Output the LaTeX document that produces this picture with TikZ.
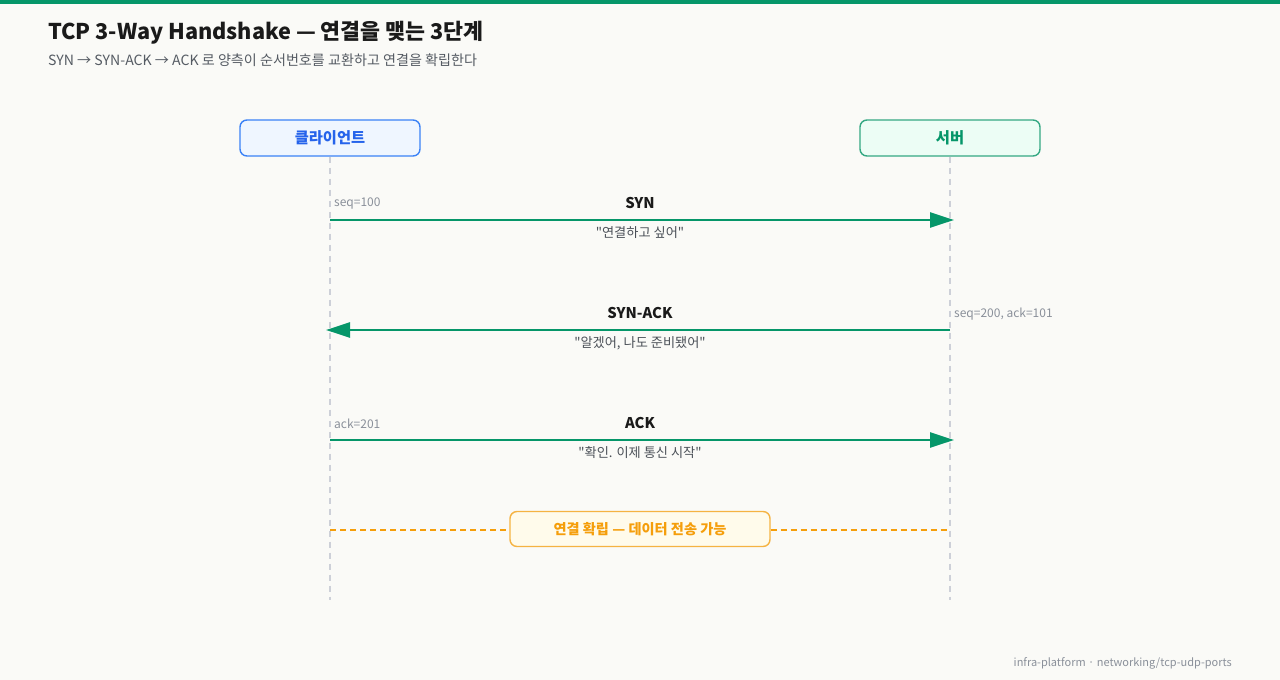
\documentclass[tikz,border=0pt]{standalone}
\usepackage{fontspec}
\setmainfont{Noto Sans CJK KR}
\newfontfamily\plainfont{Noto Sans CJK KR}
\usetikzlibrary{arrows.meta}
\definecolor{bg}{HTML}{FAFAF7}
\definecolor{topbar}{HTML}{059669}
\definecolor{titlec}{HTML}{1A1A1A}
\definecolor{subc}{HTML}{555B63}
\definecolor{cfill}{HTML}{EFF6FF}
\definecolor{cdraw}{HTML}{3B82F6}
\definecolor{ctext}{HTML}{2563EB}
\definecolor{sfill}{HTML}{ECFDF5}
\definecolor{sdraw}{HTML}{34A883}
\definecolor{stext}{HTML}{059669}
\definecolor{life}{HTML}{CDD0D8}
\definecolor{msg}{HTML}{059669}
\definecolor{note}{HTML}{8A909A}
\definecolor{quote}{HTML}{4B5058}
\definecolor{efill}{HTML}{FFFBEB}
\definecolor{edraw}{HTML}{F5B342}
\definecolor{etext}{HTML}{F59E0B}
\definecolor{eline}{HTML}{F59E0B}
\tikzset{
  actor/.style={draw, rounded corners=7pt, line width=1.4pt, minimum width=180pt, minimum height=36pt, inner sep=0pt, font=\fontsize{15.3}{17}\selectfont\bfseries},
  lifeline/.style={draw=life, line width=1.5pt, dash pattern=on 6pt off 5pt},
  msgline/.style={draw=msg, line width=2.5pt, -{Triangle[length=24pt,width=15pt]}},
  msglabel/.style={font=\fontsize{14.8}{17}\selectfont\bfseries, text=titlec, inner sep=0pt},
  seqlabel/.style={font=\fontsize{12}{14}\selectfont, text=note, inner sep=0pt, anchor=west},
  quotelabel/.style={font=\plainfont\fontsize{13.2}{15}\selectfont, text=quote, inner sep=0pt},
}
\begin{document}
\begin{tikzpicture}[x=1pt,y=-1pt]
\useasboundingbox (0,0) rectangle (1280,680);
\fill[bg] (0,0) rectangle (1280,680);
\fill[topbar] (0,0) rectangle (1280,4);
\node[anchor=base west, inner sep=0pt, text=titlec, font=\fontsize{21.7}{24}\selectfont\bfseries] (title) at (48,39) {TCP 3-Way Handshake — 연결을 맺는 3단계};
\node[anchor=base west, inner sep=0pt, text=subc, font=\fontsize{14.1}{16}\selectfont] (subtitle) at (48,65) {SYN → SYN-ACK → ACK 로 양측이 순서번호를 교환하고 연결을 확립한다};

\node[actor, fill=cfill, draw=cdraw, text=ctext] (client) at (330,138) {클라이언트};
\node[actor, fill=sfill, draw=sdraw, text=stext] (server) at (950,138) {서버};

\coordinate (cend) at (330,600);
\coordinate (send) at (950,600);
\draw[lifeline] (client.south) -- (cend);
\draw[lifeline] (server.south) -- (send);

% SYN
\coordinate (c1) at (330,220);
\coordinate (s1) at (954,220);
\draw[msgline] (c1) -- (s1);
\node[msglabel] (syn) at (640,203) {SYN};
\node[seqlabel] (seq1) at (334,204) {seq=100};
\node[quotelabel] (q1) at (640,233) {"연결하고 싶어"};

% SYN-ACK
\coordinate (s2) at (950,330);
\coordinate (c2) at (326,330);
\draw[msgline] (s2) -- (c2);
\node[msglabel] (synack) at (640,313) {SYN-ACK};
\node[seqlabel] (seq2) at (954,314) {seq=200, ack=101};
\node[quotelabel] (q2) at (640,343) {"알겠어, 나도 준비됐어"};

% ACK
\coordinate (c3) at (330,440);
\coordinate (s3) at (954,440);
\draw[msgline] (c3) -- (s3);
\node[msglabel] (ack) at (640,423) {ACK};
\node[seqlabel] (seq3) at (334,424) {ack=201};
\node[quotelabel] (q3) at (640,453) {"확인. 이제 통신 시작"};

% established
\node[draw=edraw, fill=efill, rounded corners=7pt, line width=1.4pt, minimum width=260pt, minimum height=35pt, inner sep=0pt, text=etext, font=\fontsize{14.2}{16}\selectfont\bfseries] (est) at (640,529) {연결 확립 — 데이터 전송 가능};
\coordinate (c4) at (330,530);
\coordinate (s4) at (950,530);
\draw[draw=eline, line width=2pt, dash pattern=on 6pt off 4pt] (c4) -- (est.west |- c4);
\draw[draw=eline, line width=2pt, dash pattern=on 6pt off 4pt] (est.east |- s4) -- (s4);

\node[anchor=base east, inner sep=0pt, text=note, font=\fontsize{11}{13}\selectfont] (footer) at (1232,666) {infra-platform · networking/tcp-udp-ports};
\end{tikzpicture}
\end{document}
